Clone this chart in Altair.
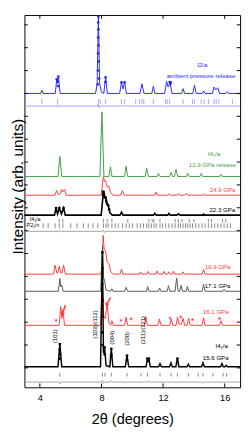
import altair as alt
import pandas as pd

FONT = "Liberation Sans"
W, H = 223, 385
X_DOMAIN = [3, 17]
Y_DOMAIN = [-0.85, 15.43]
X_TICKS = [4, 8, 12, 16]
Y_TICKS = list(range(0, 16))

BLUE = "#2a2af0"
BLUE_LIGHT = "#8c8cff"
GREEN = "#3f9f3f"
RED = "#ff3b3b"
GRAY = "#555555"
DIFF_GRAY = "#8c8c8c"
STAR_PATH = ("M0,-1L0.2245,-0.309L0.951,-0.309L0.363,0.118L0.588,0.809L0,0.382"
             "L-0.588,0.809L-0.363,0.118L-0.951,-0.309L-0.2245,-0.309Z")

# ---- ambient pressure release (I2/a), observed/fit, reflections, difference
AMB_OFF = 12.0
AMB_FIT = [(3.0, 0), (4.05, 0), (4.13, 0.14), (4.21, 0),
           (5.0, 0), (5.1, 0.62), (5.15, 0.45), (5.2, 0.74), (5.32, 0),
           (7.62, 0), (7.72, 0.45), (7.8, 3.38), (7.88, 0.45), (8.0, 0.05), (8.15, 0), (8.27, 0.70), (8.38, 0),
           (9.18, 0), (9.3, 0.48), (9.4, 0.2), (9.5, 0.48), (9.62, 0),
           (10.5, 0), (10.63, 0.42), (10.76, 0),
           (11.27, 0), (11.37, 0.32), (11.47, 0),
           (12.1, 0), (12.23, 0.52), (12.33, 0.28), (12.45, 0.45), (12.58, 0),
           (13.2, 0), (13.3, 0.21), (13.4, 0),
           (13.93, 0), (14.04, 0.36), (14.15, 0),
           (14.54, 0), (14.63, 0.11), (14.72, 0),
           (15.2, 0), (15.31, 0.28), (15.43, 0.15), (15.55, 0.25), (15.67, 0),
           (16.08, 0), (16.17, 0.08), (16.26, 0), (17.0, 0)]
AMB_OBS = [(5.1, 0.62), (5.13, 0.5), (5.17, 0.52), (5.2, 0.74), (5.18, 0.32),
           (7.8, 3.36), (7.79, 3.1), (7.8, 2.8), (7.79, 2.45), (7.81, 2.1), (7.78, 1.75),
           (7.82, 1.4), (7.77, 1.0), (7.84, 0.65), (7.76, 0.4),
           (8.27, 0.7), (8.26, 0.5), (9.3, 0.48), (9.5, 0.48),
           (12.43, 0.5), (12.47, 0.42), (12.5, 0.48)]
AMB_TICKS = [4.13, 5.15, 7.80, 7.92, 8.27, 9.29, 9.50, 10.22, 10.48, 10.63, 10.75, 11.37,
             12.16, 12.27, 12.43, 13.30, 13.91, 14.05, 14.47, 14.67, 14.94, 15.31, 15.45,
             15.62, 16.50]
AMB_TICK_Y = (11.54, 11.75)
AMB_DIFF_OFF = 11.45
AMB_DIFF = [(3, 0), (5.1, 0), (5.15, 0.05), (5.2, -0.04), (5.25, 0), (7.74, 0), (7.79, 0.08),
            (7.84, -0.08), (7.9, 0), (9.25, 0), (9.3, 0.04), (9.36, 0), (12.22, 0),
            (12.27, -0.05), (12.33, 0), (17, 0)]

# ---- 12.9 GPa release (I4_1/a)
GRN_OFF = 8.37
GRN = [(3, 0), (5.18, 0), (5.3, 0.875), (5.42, 0),
       (7.9, 0), (8.03, 2.82), (8.16, 0), (8.48, 0), (8.58, 0.42), (8.68, 0),
       (9.5, 0), (9.6, 0.45), (9.7, 0),
       (10.83, 0), (10.94, 0.35), (11.05, 0),
       (11.61, 0), (11.7, 0.14), (11.79, 0),
       (12.43, 0), (12.52, 0.18), (12.62, 0), (12.74, 0), (12.84, 0.31), (12.95, 0),
       (13.51, 0), (13.6, 0.14), (13.69, 0),
       (14.39, 0), (14.48, 0.13), (14.57, 0),
       (15.67, 0), (15.76, 0.10), (15.85, 0), (17, 0)]

# ---- 24.9 GPa
R24_OFF = 7.55
R24 = [(3, 0), (4.98, 0), (5.09, 0.21), (5.2, 0.03), (5.3, 0.03), (5.42, 0.25), (5.5, 0.15), (5.6, 0.25), (5.72, 0),
       (7.98, 0), (8.13, 0.82), (8.2, 0.6), (8.27, 0.63), (8.38, 0.35), (8.48, 0.39), (8.6, 0.1), (8.75, 0),
       (9.25, 0), (9.36, 0.21), (9.48, 0),
       (11.46, 0), (11.55, 0.14), (11.64, 0),
       (12.3, 0), (12.4, 0.06), (12.5, 0),
       (12.9, 0), (13.0, 0.06), (13.1, 0),
       (13.4, 0), (13.5, 0.08), (13.6, 0),
       (14.55, 0), (14.63, 0.05), (14.71, 0), (17, 0)]

# ---- 22.3 GPa (mixed phases)
B22_OFF = 6.68
B22 = [(3, 0), (4.95, 0), (5.05, 0.31), (5.15, 0.05), (5.26, 0.31), (5.4, 0.05), (5.54, 0.31), (5.65, 0),
       (7.98, 0), (8.13, 1.03), (8.2, 0.8), (8.27, 0.76), (8.35, 0.5), (8.44, 0.42), (8.55, 0.1), (8.7, 0),
       (9.2, 0), (9.3, 0.13), (9.4, 0),
       (11.37, 0), (11.46, 0.08), (11.55, 0),
       (12.3, 0), (12.38, 0.08), (12.46, 0),
       (12.9, 0), (13.0, 0.06), (13.1, 0),
       (14.55, 0), (14.63, 0.05), (14.71, 0), (17, 0)]
B22_OBS = [(5.05, 0.31), (5.26, 0.31), (5.54, 0.31), (8.1, 0.9), (8.12, 1.03), (8.14, 0.98),
           (8.17, 0.88), (8.2, 0.8), (8.24, 0.78), (8.27, 0.76), (8.31, 0.62), (8.36, 0.5),
           (8.44, 0.42), (8.5, 0.25)]
I41A_22_TICKS = [5.26, 5.50, 8.13, 8.37, 8.68, 9.71, 11.08, 11.29, 11.41, 11.80, 12.78, 12.99,
                 13.23, 13.70, 14.01, 14.94, 15.14, 15.86, 16.07]
I41A_22_Y = (6.36, 6.51)
P21N_22_TICKS = [4.21, 4.54, 4.99, 5.26, 5.50, 6.01, 6.42, 6.83, 7.14, 7.45, 7.76, 8.13, 8.29,
                 8.43, 8.68, 8.89, 9.09, 9.36, 9.60, 9.81, 10.01, 10.32, 10.53, 10.73, 10.94,
                 11.08, 11.24, 11.41, 11.55, 11.80, 11.96, 12.17, 12.37, 12.58, 12.78, 12.99,
                 13.13, 13.30, 13.46, 13.60, 13.75, 13.91, 14.12, 14.32, 14.53, 14.73, 14.94,
                 15.14, 15.35, 15.55, 15.76, 15.96, 16.17, 16.37]
P21N_22_Y = (6.12, 6.32)
D22_OFF = 5.97
D22 = [(3, 0), (5.2, 0), (5.26, 0.04), (5.32, -0.03), (5.4, 0), (8.05, 0), (8.12, 0.06),
       (8.2, -0.05), (8.28, 0), (17, 0)]

# ---- 19.9 GPa
R19_OFF = 4.10
R19 = [(3, 0), (4.88, 0), (4.99, 0.39), (5.1, 0.05), (5.16, 0.05), (5.26, 0.35), (5.36, 0.05), (5.44, 0.05), (5.54, 0.39), (5.66, 0),
       (7.96, 0), (8.04, 0.4), (8.11, 1.69), (8.18, 1.05), (8.27, 1.01), (8.36, 0.55), (8.48, 0.47), (8.6, 0.1), (8.75, 0),
       (9.2, 0), (9.3, 0.21), (9.4, 0),
       (10.45, 0), (10.53, 0.1), (10.61, 0),
       (10.96, 0), (11.04, 0.12), (11.12, 0),
       (11.54, 0), (11.62, 0.14), (11.7, 0),
       (11.98, 0), (12.06, 0.12), (12.14, 0),
       (12.29, 0), (12.37, 0.1), (12.45, 0),
       (12.6, 0), (12.68, 0.12), (12.76, 0),
       (13.22, 0), (13.3, 0.1), (13.38, 0),
       (14.53, 0), (14.63, 0.21), (14.73, 0), (17, 0)]

# ---- 17.1 GPa
G17_OFF = 3.35
G17 = [(3, 0), (5.2, 0), (5.3, 0.56), (5.36, 0.2), (5.42, 0.27), (5.52, 0),
       (7.95, 0), (8.07, 1.97), (8.14, 0.6), (8.21, 0.44), (8.3, 0.05), (8.6, 0), (8.68, 0.11), (8.76, 0),
       (9.5, 0), (9.6, 0.17), (9.7, 0),
       (10.92, 0), (11.0, 0.2), (11.08, 0),
       (11.7, 0), (11.78, 0.14), (11.86, 0),
       (12.26, 0), (12.35, 0.24), (12.44, 0),
       (12.78, 0), (12.88, 0.58), (12.98, 0), (13.08, 0), (13.17, 0.26), (13.26, 0),
       (13.5, 0), (13.58, 0.22), (13.66, 0),
       (14.53, 0), (14.63, 0.3), (14.73, 0),
       (15.88, 0), (15.96, 0.08), (16.04, 0), (17, 0)]

# ---- 16.1 GPa
R16_OFF = 1.86
R16 = [(3, 0), (5.25, 0), (5.36, 0.82), (5.43, 0.3), (5.5, 0.7), (5.6, 0),
       (7.94, 0), (8.06, 1.86), (8.14, 0.4), (8.25, 0.3), (8.37, 1.0), (8.48, 0.1), (8.6, 0), (8.68, 0.2), (8.78, 0),
       (9.5, 0), (9.6, 0.36), (9.7, 0),
       (10.79, 0), (10.89, 0.32), (10.99, 0),
       (11.66, 0), (11.76, 0.28), (11.86, 0),
       (12.43, 0), (12.53, 0.28), (12.63, 0),
       (12.84, 0), (12.94, 0.36), (13.04, 0.05), (13.2, 0.05), (13.3, 0.31), (13.4, 0),
       (13.56, 0), (13.66, 0.31), (13.76, 0),
       (14.53, 0), (14.63, 0.33), (14.73, 0),
       (15.66, 0), (15.76, 0.2), (15.86, 0), (17, 0)]
R16_STARS = [(5.05, 0.22), (9.26, 0.22), (9.92, 0.28), (10.84, 0.32), (12.45, 0.32),
             (13.15, 0.36), (13.91, 0.25), (15.66, 0.3)]
# arrows: (head x, head y, tail x, tail y)
R16_ARROWS = [(5.46, 0.47, 5.66, 0.89), (8.33, 0.89, 8.58, 1.21)]

# ---- 15.6 GPa (I4_1/a), fit, reflections, difference
B15_OFF = 0.05
B15 = [(3, 0), (5.18, 0), (5.3, 0.99), (5.42, 0),
       (7.94, 0), (8.06, 5.06), (8.13, 0.6), (8.2, 0.85), (8.3, 0.05), (8.54, 0), (8.64, 0.78), (8.74, 0),
       (9.55, 0), (9.66, 0.49), (9.77, 0),
       (10.9, 0), (10.98, 0.36), (11.03, 0.2), (11.08, 0.36), (11.17, 0),
       (11.71, 0), (11.8, 0.14), (11.89, 0),
       (12.42, 0), (12.51, 0.17), (12.6, 0),
       (12.83, 0), (12.93, 0.36), (13.03, 0),
       (13.55, 0), (13.64, 0.11), (13.73, 0),
       (14.5, 0), (14.59, 0.17), (14.68, 0),
       (15.73, 0), (15.82, 0.14), (15.91, 0), (16.02, 0), (16.1, 0.06), (16.18, 0), (17, 0)]
B15_OBS = [(5.3, 0.99), (5.29, 0.75), (5.31, 0.55), (5.28, 0.35), (8.06, 5.0), (8.06, 4.3),
           (8.05, 3.6), (8.07, 2.9), (8.06, 2.2), (8.05, 1.5), (8.07, 0.95), (8.2, 0.85),
           (8.21, 0.55), (8.64, 0.78), (8.63, 0.5), (9.66, 0.49), (9.65, 0.3), (10.98, 0.36),
           (11.08, 0.36), (12.93, 0.36)]
B15_TICKS = [5.30, 8.06, 8.23, 8.64, 9.66, 10.57, 10.98, 11.80, 12.52, 12.93, 13.64, 14.28,
             14.59, 15.24, 15.90, 16.13]
B15_TICK_Y = (-0.38, -0.22)
D15_OFF = -0.62
D15 = [(3, 0), (5.22, 0), (5.3, -0.08), (5.38, 0.03), (5.45, 0), (7.98, 0), (8.06, 0.08),
       (8.14, -0.06), (8.2, 0), (8.56, 0), (8.64, 0.06), (8.72, 0), (11.0, 0), (11.07, 0.04),
       (11.15, 0), (14.5, 0), (14.59, -0.05), (14.68, 0), (17, 0)]

# ---- text labels (text, 2theta, y, colour)
RIGHT_LABELS = [("ambient pressure release", 16.69, 12.76, BLUE),
                ("12.9 GPa release", 16.74, 8.86, GREEN),
                ("24.9 GPa", 16.7, 7.76, RED),
                ("22.3 GPa", 16.68, 6.89, "black"),
                ("19.9 GPa", 16.37, 4.42, RED),
                ("17.1 GPa", 16.37, 3.59, "black"),
                ("16.1 GPa", 16.25, 2.45, RED),
                ("I4\u2081/a", 16.2, 0.97, "black"),
                ("15.6 GPa", 16.25, 0.43, "black")]
CENTER_LABELS = [("I2/a", 14.54, 13.23, BLUE), ("I4\u2081/a", 15.3, 9.33, GREEN)]
LEFT_LABELS = [("I4\u2081/a", 3.35, 6.49, "black"), ("P2\u2081/n", 3.14, 6.25, "black")]
HKL_LABELS = [("(101)", 4.96, 1.39), ("(103)/(112)", 7.57, 1.90), ("(004)", 8.66, 1.32),
              ("(200)", 9.63, 1.27), ("(211)/(121)", 10.70, 1.65)]

# ---------------------------------------------------------------------------
XS = alt.Scale(domain=X_DOMAIN, nice=False, zero=False)
YS = alt.Scale(domain=Y_DOMAIN, nice=False, zero=False)
X_AXIS = alt.Axis(values=X_TICKS, ticks=False, domain=False, grid=False, labelFontSize=9.5,
                  labelPadding=6, labelColor="black", labelFont=FONT, labelFlush=False,
                  title="2\u03b8 (degrees)", titleFontSize=15, titleFont=FONT,
                  titleFontWeight="normal", titleColor="black", titleX=W / 2, titleY=37,
                  titleAlign="center", titleBaseline="alphabetic")
Y_AXIS = alt.Axis(labels=False, ticks=False, domain=False, grid=False,
                  title="Intensity (arb. units)", titleFontSize=16, titleFont=FONT,
                  titleFontWeight="normal", titleColor="black", titleAngle=270,
                  titleX=-2.5, titleY=177, titleAlign="center", titleBaseline="alphabetic")


def X(f="x"):
    return alt.X(f"{f}:Q", scale=XS, axis=X_AXIS)


def Y(f="y"):
    return alt.Y(f"{f}:Q", scale=YS, axis=Y_AXIS)


def curve_df(pairs, off):
    return pd.DataFrame({"x": [p[0] for p in pairs], "y": [off + p[1] for p in pairs]})


def line(pairs, off, color, width=1.0):
    return alt.Chart(curve_df(pairs, off)).mark_line(color=color, strokeWidth=width).encode(x=X(), y=Y())


def dots(pairs, off, color, size=7):
    return alt.Chart(curve_df(pairs, off)).mark_circle(color=color, size=size, opacity=1).encode(x=X(), y=Y())


def tick_row(xs, yr, color, width=0.7):
    df = pd.DataFrame({"x": xs, "y": [yr[0]] * len(xs), "y2": [yr[1]] * len(xs)})
    return alt.Chart(df).mark_rule(color=color, strokeWidth=width).encode(x=X(), y=Y(), y2="y2:Q")


def labels(items, align, size=6.3, angle=0):
    df = pd.DataFrame(items, columns=["t", "x", "y", "c"])
    return alt.Chart(df).mark_text(align=align, baseline="middle", fontSize=size, font=FONT,
                                   angle=angle).encode(
        x=X(), y=Y(), text="t:N", color=alt.Color("c:N", scale=None))


layers = []
# blue
layers.append(line(AMB_FIT, AMB_OFF, BLUE, 1.0))
layers.append(dots(AMB_OBS, AMB_OFF, BLUE, 8))
layers.append(tick_row(AMB_TICKS, AMB_TICK_Y, BLUE_LIGHT, 0.8))
layers.append(line(AMB_DIFF, AMB_DIFF_OFF, BLUE_LIGHT, 0.8))
# green
layers.append(line(GRN, GRN_OFF, GREEN, 1.0))
# red 24.9
layers.append(line(R24, R24_OFF, RED, 1.0))
# black 22.3
layers.append(line(B22, B22_OFF, "black", 1.6))
layers.append(dots(B22_OBS, B22_OFF, "black", 8))
layers.append(tick_row(I41A_22_TICKS, I41A_22_Y, "#333333", 0.6))
layers.append(tick_row(P21N_22_TICKS, P21N_22_Y, "#333333", 0.6))
layers.append(line(D22, D22_OFF, DIFF_GRAY, 0.8))
# red 19.9
layers.append(line(R19, R19_OFF, RED, 1.0))
# gray 17.1
layers.append(line(G17, G17_OFF, GRAY, 1.0))
# red 16.1
layers.append(line(R16, R16_OFF, RED, 1.0))
stars_df = curve_df(R16_STARS, R16_OFF)
layers.append(alt.Chart(stars_df).mark_point(shape=STAR_PATH, filled=True, color=RED, size=18,
                                             opacity=1).encode(x=X(), y=Y()))
arr_df = pd.DataFrame({"x": [a[0] for a in R16_ARROWS], "y": [R16_OFF + a[1] for a in R16_ARROWS],
                       "x2": [a[2] for a in R16_ARROWS], "y2": [R16_OFF + a[3] for a in R16_ARROWS]})
layers.append(alt.Chart(arr_df).mark_rule(color=RED, strokeWidth=1.5).encode(
    x=X(), y=Y(), x2="x2:Q", y2="y2:Q"))
layers.append(alt.Chart(arr_df).mark_point(shape="triangle-down", filled=True, color=RED,
                                           size=22, angle=20, opacity=1).encode(x=X(), y=Y()))
# black 15.6
layers.append(line(B15, B15_OFF, "black", 1.5))
layers.append(dots(B15_OBS, B15_OFF, "black", 8))
layers.append(tick_row(B15_TICKS, B15_TICK_Y, "#333333", 0.6))
layers.append(line(D15, D15_OFF, DIFF_GRAY, 0.8))

# texts
layers.append(labels(RIGHT_LABELS, "right"))
layers.append(labels(CENTER_LABELS, "center"))
layers.append(labels(LEFT_LABELS, "left", size=5.5))
hkl = [(t, x, y, "black") for (t, x, y) in HKL_LABELS]
layers.append(labels(hkl, "center", size=6, angle=270))

# inward frame ticks
xt = pd.DataFrame({"x": X_TICKS})
yt = pd.DataFrame({"y": Y_TICKS})
layers.append(alt.Chart(xt).mark_rule(color="black", strokeWidth=1).encode(
    x=X(), y=alt.value(0), y2=alt.value(4)))
layers.append(alt.Chart(xt).mark_rule(color="black", strokeWidth=1).encode(
    x=X(), y=alt.value(H), y2=alt.value(H - 4)))
layers.append(alt.Chart(yt).mark_rule(color="black", strokeWidth=1).encode(
    y=Y(), x=alt.value(0), x2=alt.value(3.5)))
layers.append(alt.Chart(yt).mark_rule(color="black", strokeWidth=1).encode(
    y=Y(), x=alt.value(W), x2=alt.value(W - 3.5)))

chart = alt.layer(*layers).properties(
    width=W, height=H,
    autosize=alt.AutoSizeParams(type="none"),
    padding={"left": 17, "top": 0, "right": 3, "bottom": 40},
    background="white",
).configure(font=FONT).configure_view(stroke="black", strokeWidth=1)

chart.save("out.html", embed_options={"renderer": "svg", "actions": False})
